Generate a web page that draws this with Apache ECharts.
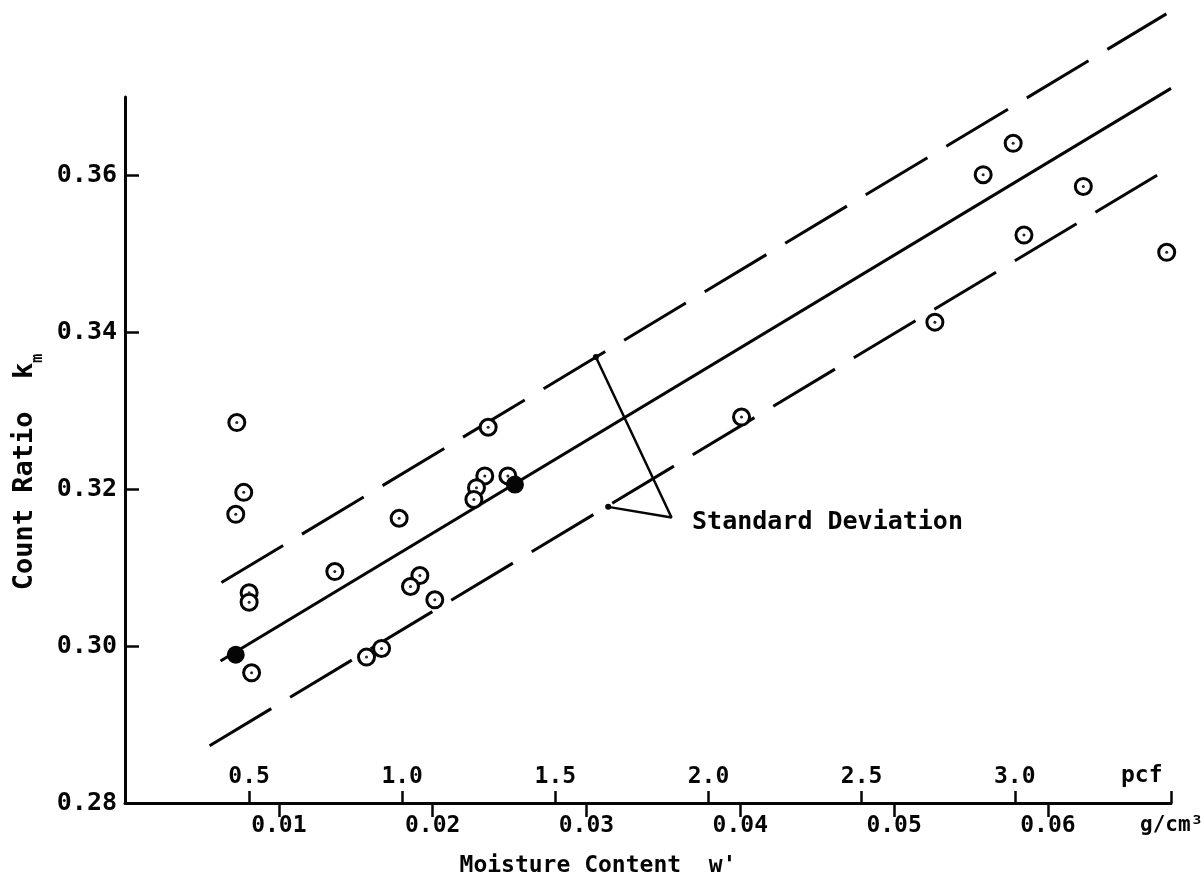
<!DOCTYPE html>
<html><head><meta charset="utf-8">
<script src="https://cdn.jsdelivr.net/npm/echarts@6/dist/echarts.min.js"></script>
<style>html,body{margin:0;padding:0;background:#fff}#c{width:1204px;height:890px}</style>
</head><body><div id="c"></div>
<script>
// Tick values
const gTicks = [0.01, 0.02, 0.03, 0.04, 0.05, 0.06];          // g/cm3 scale (below axis)
const pcfTicks = [0.5, 1.0, 1.5, 2.0, 2.5, 3.0];               // pcf scale (above axis)
const yTicks = [0.28, 0.30, 0.32, 0.34, 0.36];

// Data points: [moisture g/cm3, count ratio]
const openPoints = [
  [0.00727, 0.3285], [0.00772, 0.3196], [0.00720, 0.3168],
  [0.00807, 0.3068], [0.00807, 0.3056], [0.00823, 0.2966],
  [0.01364, 0.3095], [0.01782, 0.3163], [0.01570, 0.2986], [0.01668, 0.2997],
  [0.01917, 0.3090], [0.01856, 0.3076], [0.02014, 0.3059],
  [0.02361, 0.3279], [0.02339, 0.3217], [0.02285, 0.3202], [0.02268, 0.3187],
  [0.02489, 0.3217], [0.04008, 0.3292], [0.05265, 0.3413],
  [0.05579, 0.3601], [0.05774, 0.3641], [0.05844, 0.3524], [0.06230, 0.3586],
  [0.06772, 0.3502]
];
const filledPoints = [[0.00720, 0.2989], [0.02535, 0.3206]];

// Regression line and +/- standard deviation lines (endpoints)
const fitLine = [[0.00621, 0.2981], [0.0680, 0.3711]];
const upperSD = [[0.00627, 0.3081], [0.0677, 0.3806]];
const lowerSD = [[0.00550, 0.2873], [0.0680, 0.3611]];
// Standard deviation bracket: upper end, tip, lower end
const sdBracket = [[0.03061, 0.33685], [0.03553, 0.3164], [0.03141, 0.31775]];
const sdLabel = 'Standard Deviation';

const FONT = '"DejaVu Sans Mono", monospace';
const INK = '#050505';

const chart = echarts.init(document.getElementById('c'));
chart.setOption({
  backgroundColor: '#fff',
  animation: false,
  grid: { left: 125, right: 33, top: 97, bottom: 87, containLabel: false },
  xAxis: [
    {
      type: 'value', min: 0, max: 0.068, position: 'bottom',
      axisLine: { show: true, lineStyle: { color: INK, width: 3 } },
      axisTick: { show: true, inside: false, length: 14, customValues: gTicks, lineStyle: { color: INK, width: 2.5 } },
      axisLabel: { show: true, customValues: gTicks, margin: 12, formatter: v => v.toFixed(2),
        color: INK, fontFamily: FONT, fontWeight: 'bold', fontSize: 23 },
      splitLine: { show: false },
      name: "Moisture Content  w'", nameLocation: 'middle', nameGap: 52,
      nameTextStyle: { color: INK, fontFamily: FONT, fontWeight: 'bold', fontSize: 23, padding: [0, 100, 0, 0] }
    },
    {
      type: 'value', min: 0.095, max: 3.51, position: 'bottom', offset: 0,
      axisLine: { show: false },
      axisTick: { show: true, inside: true, length: 12, customValues: pcfTicks.concat([3.51]), lineStyle: { color: INK, width: 2.5 } },
      axisLabel: { show: true, inside: true, customValues: pcfTicks, margin: 14, formatter: v => v.toFixed(1),
        color: INK, fontFamily: FONT, fontWeight: 'bold', fontSize: 23 },
      splitLine: { show: false }
    }
  ],
  yAxis: {
    type: 'value', min: 0.28, max: 0.37,
    axisLine: { show: true, lineStyle: { color: INK, width: 3 } },
    axisTick: { show: true, inside: true, length: 14, customValues: yTicks.slice(1), lineStyle: { color: INK, width: 2.5 } },
    axisLabel: { show: true, customValues: yTicks, margin: 8, formatter: v => v.toFixed(2),
      color: INK, fontFamily: FONT, fontWeight: 'bold', fontSize: 25 },
    splitLine: { show: false },
    name: '{a|Count Ratio  k}{b|m}', nameLocation: 'middle', nameGap: 70, nameRotate: 90,
    nameTextStyle: {
      color: INK, fontFamily: FONT, fontWeight: 'bold', fontSize: 27, padding: [0, 44, 0, 0],
      rich: {
        a: { color: INK, fontFamily: FONT, fontWeight: 'bold', fontSize: 27, verticalAlign: 'bottom', padding: [0, 0, 7, 0] },
        b: { color: INK, fontFamily: FONT, fontWeight: 'bold', fontSize: 15, verticalAlign: 'bottom' }
      }
    }
  },
  graphic: [
    { type: 'text', left: 1121, top: 765, style: { text: 'pcf', fill: INK, font: 'bold 23px "DejaVu Sans Mono"' } },
    { type: 'text', left: 1140, top: 815, style: { text: 'g/cm³', fill: INK, font: 'bold 21px "DejaVu Sans Mono"' } }
  ],
  series: [
    {
      type: 'line', data: fitLine, clip: false, symbol: 'none', silent: true,
      lineStyle: { color: INK, width: 3 }
    },
    {
      type: 'line', data: upperSD, clip: false, symbol: 'none', silent: true,
      lineStyle: { color: INK, width: 3, type: [72, 22] }
    },
    {
      type: 'line', data: lowerSD, clip: false, symbol: 'none', silent: true,
      lineStyle: { color: INK, width: 3, type: [72, 22] }
    },
    {
      type: 'line', clip: false, silent: true,
      data: sdBracket.map((p, i) => ({ value: p, symbol: i === 1 ? 'none' : 'circle', symbolSize: 6 })),
      showAllSymbol: true,
      itemStyle: { color: INK, opacity: 1 },
      lineStyle: { color: INK, width: 2.5 }
    },
    {
      type: 'scatter', clip: false, silent: true, symbolSize: 1,
      data: [sdBracket[1]],
      itemStyle: { color: INK, opacity: 1 },
      label: { show: true, position: 'right', distance: 20, offset: [0, 5], formatter: sdLabel,
        color: INK, opacity: 1, fontFamily: FONT, fontWeight: 'bold', fontSize: 25 }
    },
    {
      type: 'scatter', data: openPoints, clip: false, symbol: 'circle', symbolSize: 16,
      itemStyle: { color: '#fff', borderColor: INK, borderWidth: 3, opacity: 1 }, z: 5
    },
    {
      type: 'scatter', data: openPoints, clip: false, symbol: 'circle', symbolSize: 3,
      itemStyle: { color: '#222', opacity: 1 }, z: 6
    },
    {
      type: 'scatter', data: filledPoints, clip: false, symbol: 'circle', symbolSize: 18,
      itemStyle: { color: INK, opacity: 1 }, z: 7
    }
  ]
});
</script>
</body></html>
